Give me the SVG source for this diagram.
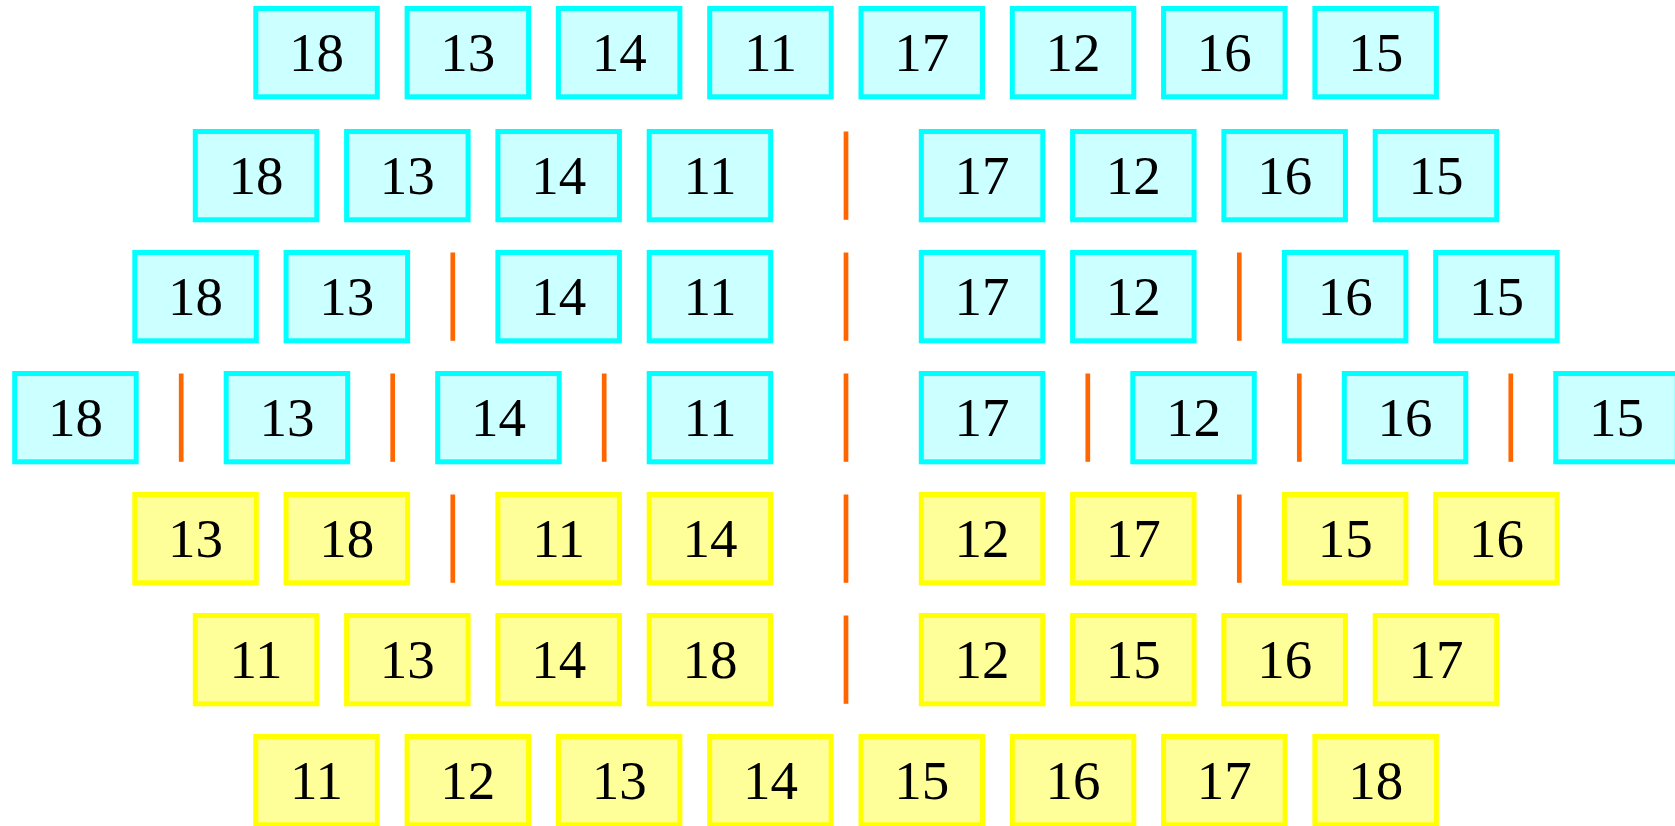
<svg xmlns="http://www.w3.org/2000/svg" width="1675" height="826" viewBox="0 0 1675 826">
<style>
rect{stroke-width:5}
.c rect{fill:#CCFFFF;stroke:#00FFFF}
.y rect{fill:#FFFF99;stroke:#FFFF00}
text{font-family:"Liberation Serif","Times New Roman",serif;font-size:55px;fill:#000;text-anchor:middle}
#separators line{stroke:#FF6600;stroke-width:4.7}
</style>
<rect width="1675" height="826" fill="#fff" style="stroke:none"/>
<g id="row1" class="c">
<g id="r1n1"><rect x="255.8" y="8.5" width="121.5" height="88.3"/><text x="316.55" y="70.5">18</text></g>
<g id="r1n2"><rect x="407.1" y="8.5" width="121.5" height="88.3"/><text x="467.85" y="70.5">13</text></g>
<g id="r1n3"><rect x="558.4" y="8.5" width="121.5" height="88.3"/><text x="619.15" y="70.5">14</text></g>
<g id="r1n4"><rect x="709.7" y="8.5" width="121.5" height="88.3"/><text x="770.45" y="70.5">11</text></g>
<g id="r1n5"><rect x="861.0" y="8.5" width="121.5" height="88.3"/><text x="921.75" y="70.5">17</text></g>
<g id="r1n6"><rect x="1012.3" y="8.5" width="121.5" height="88.3"/><text x="1073.05" y="70.5">12</text></g>
<g id="r1n7"><rect x="1163.6" y="8.5" width="121.5" height="88.3"/><text x="1224.35" y="70.5">16</text></g>
<g id="r1n8"><rect x="1314.9" y="8.5" width="121.5" height="88.3"/><text x="1375.65" y="70.5">15</text></g>
</g>
<g id="row2" class="c">
<g id="r2n1"><rect x="195.3" y="131.5" width="121.5" height="88.3"/><text x="256.05" y="193.5">18</text></g>
<g id="r2n2"><rect x="346.6" y="131.5" width="121.5" height="88.3"/><text x="407.35" y="193.5">13</text></g>
<g id="r2n3"><rect x="497.9" y="131.5" width="121.5" height="88.3"/><text x="558.65" y="193.5">14</text></g>
<g id="r2n4"><rect x="649.2" y="131.5" width="121.5" height="88.3"/><text x="709.95" y="193.5">11</text></g>
<g id="r2n5"><rect x="921.3" y="131.5" width="121.5" height="88.3"/><text x="982.05" y="193.5">17</text></g>
<g id="r2n6"><rect x="1072.6" y="131.5" width="121.5" height="88.3"/><text x="1133.35" y="193.5">12</text></g>
<g id="r2n7"><rect x="1223.9" y="131.5" width="121.5" height="88.3"/><text x="1284.65" y="193.5">16</text></g>
<g id="r2n8"><rect x="1375.2" y="131.5" width="121.5" height="88.3"/><text x="1435.95" y="193.5">15</text></g>
</g>
<g id="row3" class="c">
<g id="r3n1"><rect x="134.8" y="252.5" width="121.5" height="88.3"/><text x="195.55" y="314.5">18</text></g>
<g id="r3n2"><rect x="286.1" y="252.5" width="121.5" height="88.3"/><text x="346.85" y="314.5">13</text></g>
<g id="r3n3"><rect x="497.9" y="252.5" width="121.5" height="88.3"/><text x="558.65" y="314.5">14</text></g>
<g id="r3n4"><rect x="649.2" y="252.5" width="121.5" height="88.3"/><text x="709.95" y="314.5">11</text></g>
<g id="r3n5"><rect x="921.3" y="252.5" width="121.5" height="88.3"/><text x="982.05" y="314.5">17</text></g>
<g id="r3n6"><rect x="1072.6" y="252.5" width="121.5" height="88.3"/><text x="1133.35" y="314.5">12</text></g>
<g id="r3n7"><rect x="1284.4" y="252.5" width="121.5" height="88.3"/><text x="1345.15" y="314.5">16</text></g>
<g id="r3n8"><rect x="1435.7" y="252.5" width="121.5" height="88.3"/><text x="1496.45" y="314.5">15</text></g>
</g>
<g id="row4" class="c">
<g id="r4n1"><rect x="14.7" y="373.5" width="121.5" height="88.3"/><text x="75.45" y="435.5">18</text></g>
<g id="r4n2"><rect x="226.2" y="373.5" width="121.5" height="88.3"/><text x="286.95" y="435.5">13</text></g>
<g id="r4n3"><rect x="437.7" y="373.5" width="121.5" height="88.3"/><text x="498.45" y="435.5">14</text></g>
<g id="r4n4"><rect x="649.2" y="373.5" width="121.5" height="88.3"/><text x="709.95" y="435.5">11</text></g>
<g id="r4n5"><rect x="921.3" y="373.5" width="121.5" height="88.3"/><text x="982.05" y="435.5">17</text></g>
<g id="r4n6"><rect x="1132.8" y="373.5" width="121.5" height="88.3"/><text x="1193.55" y="435.5">12</text></g>
<g id="r4n7"><rect x="1344.3" y="373.5" width="121.5" height="88.3"/><text x="1405.05" y="435.5">16</text></g>
<g id="r4n8"><rect x="1555.8" y="373.5" width="121.5" height="88.3"/><text x="1616.55" y="435.5">15</text></g>
</g>
<g id="row5" class="y">
<g id="r5n1"><rect x="134.8" y="494.5" width="121.5" height="88.3"/><text x="195.55" y="556.5">13</text></g>
<g id="r5n2"><rect x="286.1" y="494.5" width="121.5" height="88.3"/><text x="346.85" y="556.5">18</text></g>
<g id="r5n3"><rect x="497.9" y="494.5" width="121.5" height="88.3"/><text x="558.65" y="556.5">11</text></g>
<g id="r5n4"><rect x="649.2" y="494.5" width="121.5" height="88.3"/><text x="709.95" y="556.5">14</text></g>
<g id="r5n5"><rect x="921.3" y="494.5" width="121.5" height="88.3"/><text x="982.05" y="556.5">12</text></g>
<g id="r5n6"><rect x="1072.6" y="494.5" width="121.5" height="88.3"/><text x="1133.35" y="556.5">17</text></g>
<g id="r5n7"><rect x="1284.4" y="494.5" width="121.5" height="88.3"/><text x="1345.15" y="556.5">15</text></g>
<g id="r5n8"><rect x="1435.7" y="494.5" width="121.5" height="88.3"/><text x="1496.45" y="556.5">16</text></g>
</g>
<g id="row6" class="y">
<g id="r6n1"><rect x="195.3" y="615.5" width="121.5" height="88.3"/><text x="256.05" y="677.5">11</text></g>
<g id="r6n2"><rect x="346.6" y="615.5" width="121.5" height="88.3"/><text x="407.35" y="677.5">13</text></g>
<g id="r6n3"><rect x="497.9" y="615.5" width="121.5" height="88.3"/><text x="558.65" y="677.5">14</text></g>
<g id="r6n4"><rect x="649.2" y="615.5" width="121.5" height="88.3"/><text x="709.95" y="677.5">18</text></g>
<g id="r6n5"><rect x="921.3" y="615.5" width="121.5" height="88.3"/><text x="982.05" y="677.5">12</text></g>
<g id="r6n6"><rect x="1072.6" y="615.5" width="121.5" height="88.3"/><text x="1133.35" y="677.5">15</text></g>
<g id="r6n7"><rect x="1223.9" y="615.5" width="121.5" height="88.3"/><text x="1284.65" y="677.5">16</text></g>
<g id="r6n8"><rect x="1375.2" y="615.5" width="121.5" height="88.3"/><text x="1435.95" y="677.5">17</text></g>
</g>
<g id="row7" class="y">
<g id="r7n1"><rect x="255.8" y="736.5" width="121.5" height="88.3"/><text x="316.55" y="798.5">11</text></g>
<g id="r7n2"><rect x="407.1" y="736.5" width="121.5" height="88.3"/><text x="467.85" y="798.5">12</text></g>
<g id="r7n3"><rect x="558.4" y="736.5" width="121.5" height="88.3"/><text x="619.15" y="798.5">13</text></g>
<g id="r7n4"><rect x="709.7" y="736.5" width="121.5" height="88.3"/><text x="770.45" y="798.5">14</text></g>
<g id="r7n5"><rect x="861.0" y="736.5" width="121.5" height="88.3"/><text x="921.75" y="798.5">15</text></g>
<g id="r7n6"><rect x="1012.3" y="736.5" width="121.5" height="88.3"/><text x="1073.05" y="798.5">16</text></g>
<g id="r7n7"><rect x="1163.6" y="736.5" width="121.5" height="88.3"/><text x="1224.35" y="798.5">17</text></g>
<g id="r7n8"><rect x="1314.9" y="736.5" width="121.5" height="88.3"/><text x="1375.65" y="798.5">18</text></g>
</g>
<g id="separators">
<line x1="846" y1="131.5" x2="846" y2="219.8"/>
<line x1="452.8" y1="252.5" x2="452.8" y2="340.8"/>
<line x1="846" y1="252.5" x2="846" y2="340.8"/>
<line x1="1239.3" y1="252.5" x2="1239.3" y2="340.8"/>
<line x1="181.2" y1="373.5" x2="181.2" y2="461.8"/>
<line x1="392.7" y1="373.5" x2="392.7" y2="461.8"/>
<line x1="604.2" y1="373.5" x2="604.2" y2="461.8"/>
<line x1="846" y1="373.5" x2="846" y2="461.8"/>
<line x1="1087.8" y1="373.5" x2="1087.8" y2="461.8"/>
<line x1="1299.3" y1="373.5" x2="1299.3" y2="461.8"/>
<line x1="1510.8" y1="373.5" x2="1510.8" y2="461.8"/>
<line x1="452.8" y1="494.5" x2="452.8" y2="582.8"/>
<line x1="846" y1="494.5" x2="846" y2="582.8"/>
<line x1="1239.3" y1="494.5" x2="1239.3" y2="582.8"/>
<line x1="846" y1="615.5" x2="846" y2="703.8"/>
</g>
</svg>
